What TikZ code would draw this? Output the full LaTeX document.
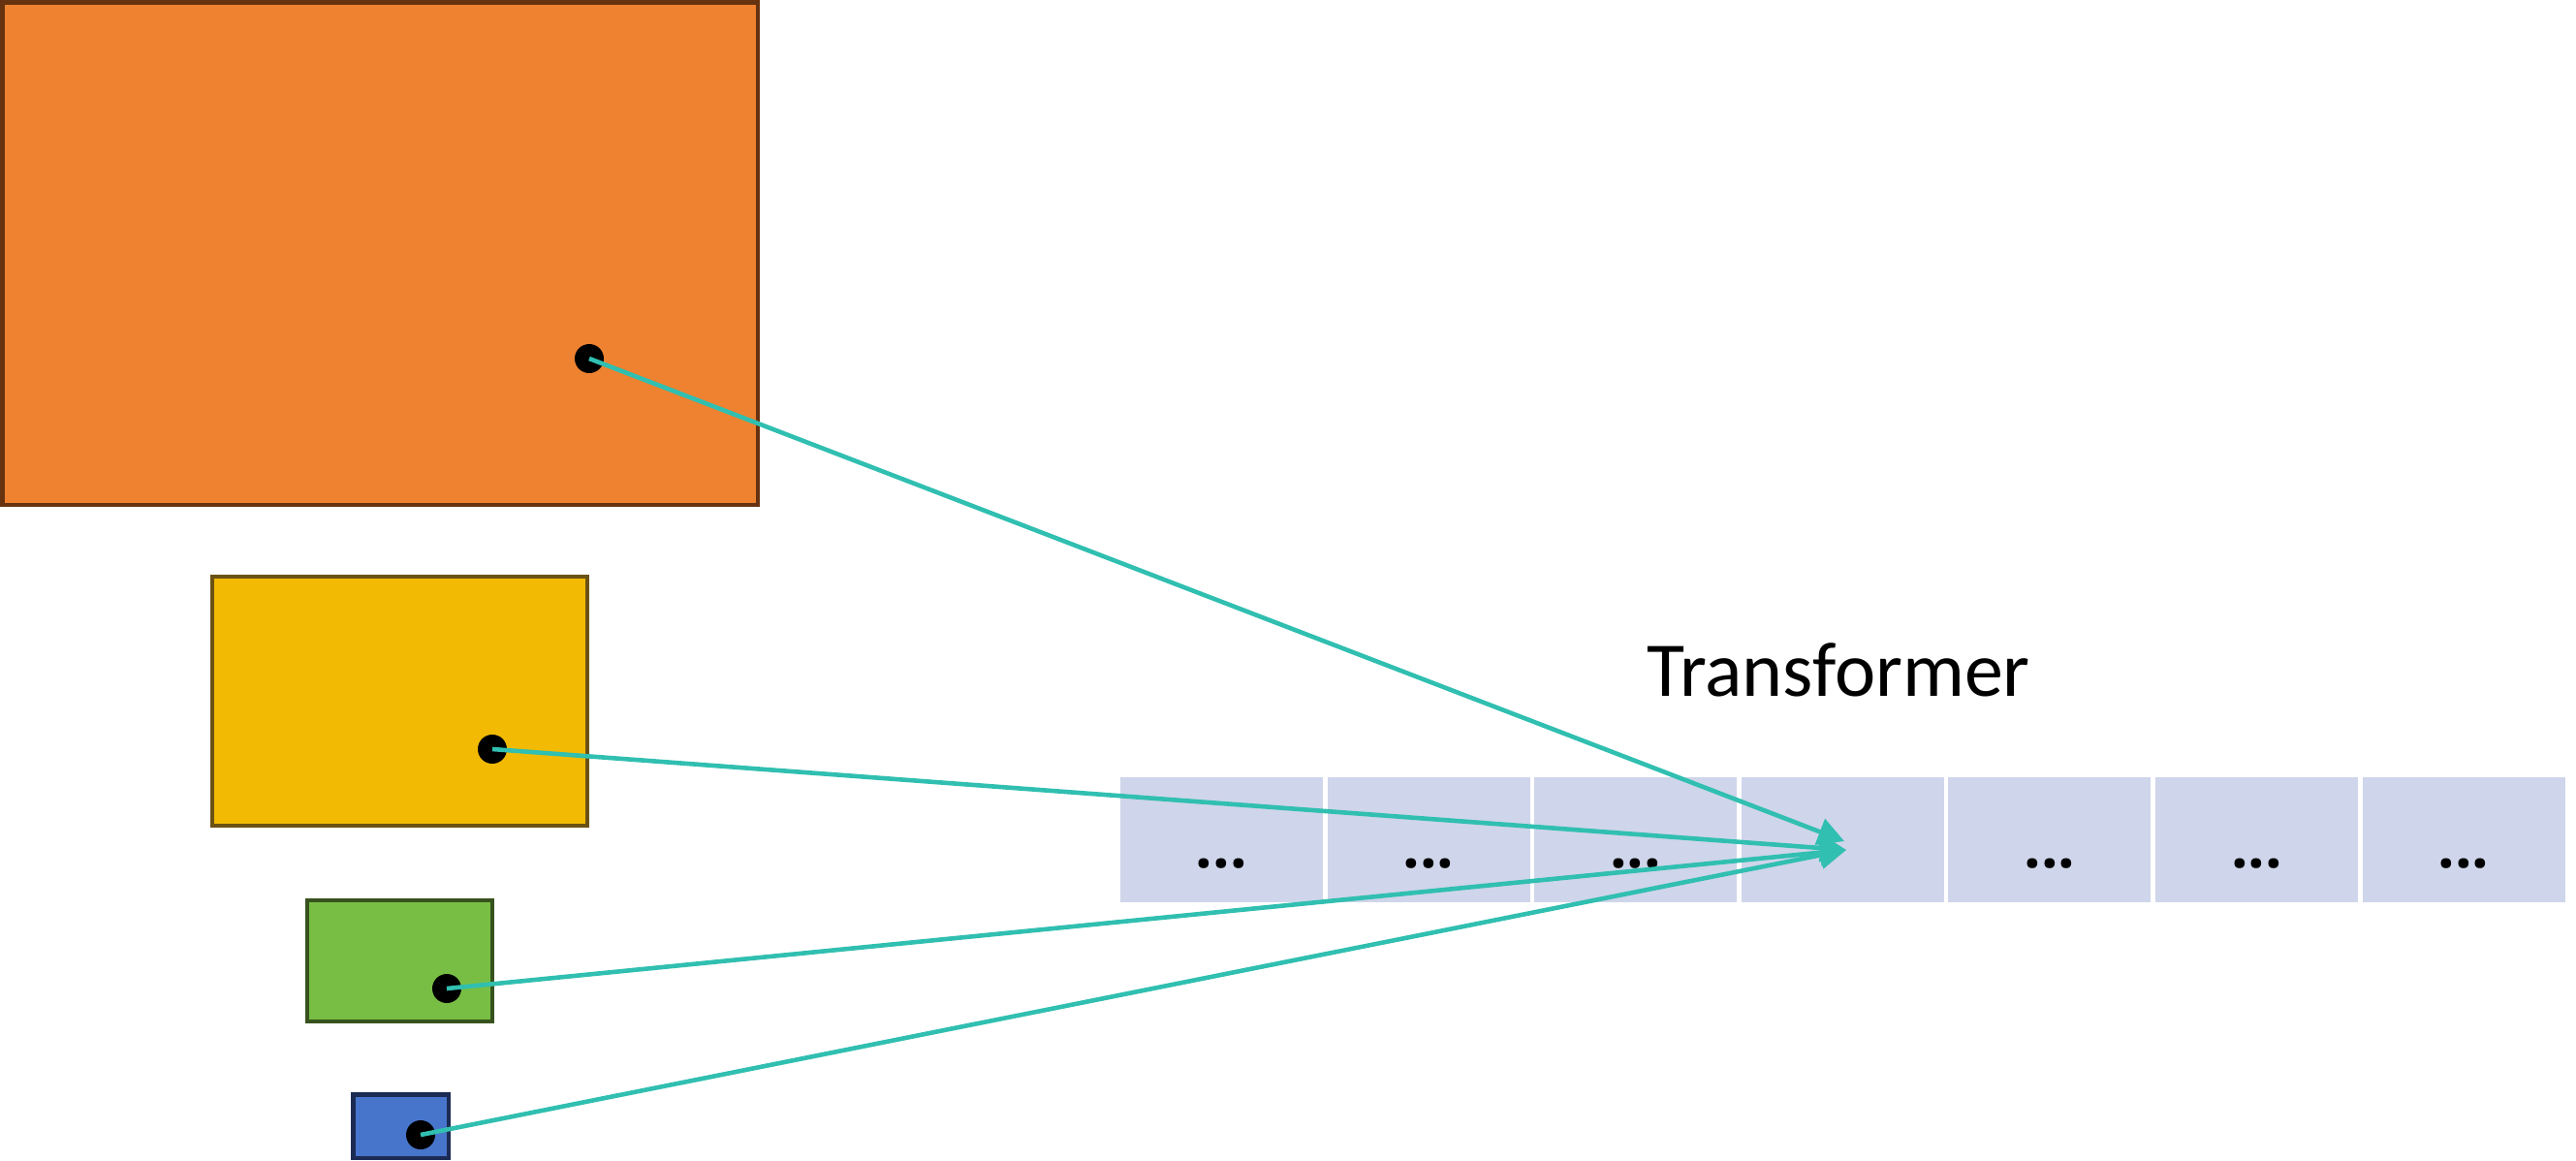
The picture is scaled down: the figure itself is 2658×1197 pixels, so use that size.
\documentclass[tikz,border=0pt]{standalone}
\usepackage{fontspec}
\setmainfont{Carlito}
\newfontfamily\dotfont{Open Sans}
\usetikzlibrary{arrows.meta}
\definecolor{orfill}{HTML}{EF8230}
\definecolor{ordraw}{HTML}{66320F}
\definecolor{yefill}{HTML}{F2BA02}
\definecolor{yedraw}{HTML}{6B5214}
\definecolor{grfill}{HTML}{78BE44}
\definecolor{grdraw}{HTML}{37521E}
\definecolor{blfill}{HTML}{4775CC}
\definecolor{bldraw}{HTML}{1C2B54}
\definecolor{cellfill}{HTML}{CFD5EA}
\definecolor{teal}{HTML}{30BFB0}
\tikzset{
  fmap/.style={line width=4.5pt},
  cellbox/.style={fill=cellfill, draw=none, minimum width=209pt, minimum height=129pt, inner sep=0pt, outer sep=0pt},
  dotstxt/.style={anchor=base, inner sep=0pt, font=\dotfont\bfseries\fontsize{62}{66}\selectfont},
  blob/.style={circle, fill=black, minimum size=30pt, inner sep=0pt},
  arr/.style={teal, line width=4.6pt, -{Triangle[length=27pt,width=28pt]}}
}
\begin{document}
\begin{tikzpicture}[x=1pt,y=-1pt]
\useasboundingbox (0,0) rectangle (2658,1197);
% feature maps
\draw[fmap, draw=ordraw, fill=orfill] (2.25,2.25) rectangle (781.75,520.75);
\draw[fmap, draw=yedraw, fill=yefill] (219,595) rectangle (606,852);
\draw[fmap, draw=grdraw, fill=grfill] (317,929) rectangle (508,1054);
\draw[fmap, draw=bldraw, fill=blfill] (364.25,1129.25) rectangle (462.75,1194.75);
% cells
\foreach \i in {1,...,7}{
  \node[cellbox] (c\i) at ({1156+104.5+(\i-1)*213.6},866.5) {};
}
\foreach \i in {1,2,3,5,6,7}{
  \path (c\i.center) ++(0,29) node[dotstxt] (d\i) {...};
}
\node[anchor=base, inner sep=0pt, font=\fontsize{80}{90}\selectfont] (title) at (1897,718) {Transformer};
% targets
\coordinate (tA) at (1903,868);
\coordinate (tB) at (1905,877);
% dots
\node[blob] (od) at (608,370) {};
\node[blob] (yd) at (508,773) {};
\node[blob] (gd) at (461,1020) {};
\node[blob] (bd) at (434,1171) {};
\draw[arr] (od.center) -- (tA);
\draw[arr] (yd.center) -- (tB);
\draw[arr] (gd.center) -- (tB);
\draw[arr] (bd.center) -- (tB);
\end{tikzpicture}
\end{document}
